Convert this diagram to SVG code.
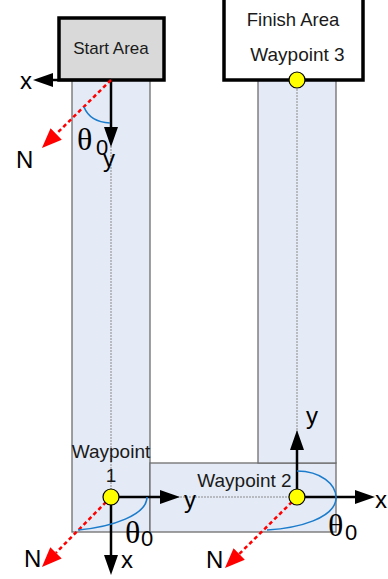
<svg xmlns="http://www.w3.org/2000/svg" width="388" height="579" viewBox="0 0 388 579">
<defs>
<style>
.corr{fill:#e4ebf6;stroke:#6e6e6e;stroke-width:1.3}
.center{fill:none;stroke:#8a8a8a;stroke-width:1;stroke-dasharray:2 1}
.box{stroke:#000;stroke-width:3.5}
.lbl{font-family:"Liberation Sans",Arial,sans-serif;fill:#1a1a1a}
.ax{font-family:"Liberation Sans",Arial,sans-serif;font-size:24px;fill:#000}
.th{font-family:"Liberation Serif","Times New Roman",serif;font-size:32px;fill:#000}
.sub{font-family:"Liberation Sans",Arial,sans-serif;font-size:22px;fill:#000}
.axis{stroke:#000;stroke-width:2.5;fill:none}
.north{stroke:#f00;stroke-width:2.5;stroke-dasharray:4 3;fill:none}
.arc{stroke:#1c7ccc;stroke-width:1.6;fill:none}
.wp{fill:#ffff00;stroke:#000;stroke-width:1.2}
</style>
<marker id="ah" markerUnits="userSpaceOnUse" markerWidth="20" markerHeight="14" refX="0" refY="7" orient="auto">
<path d="M0,0 L20,7 L0,14 Z" fill="#000"/>
</marker>
<marker id="ahr" markerUnits="userSpaceOnUse" markerWidth="20" markerHeight="16" refX="0" refY="8" orient="auto">
<path d="M0,0 L20,8 L0,16 Z" fill="#f00"/>
</marker>
</defs>

<g id="corridors">
<rect class="corr" x="72" y="80" width="78" height="452"/>
<rect class="corr" x="150" y="463" width="186" height="69"/>
<rect class="corr" x="258" y="80" width="78" height="383"/>
<path class="center" d="M111,80 V497 H297 M297,80 V497"/>
</g>

<g id="start-area">
<rect class="box" x="59" y="18" width="105" height="62" fill="#d9d9d9"/>
<text class="lbl" x="111" y="54" font-size="17" text-anchor="middle">Start Area</text>
</g>

<g id="finish-area">
<rect class="box" x="224" y="-2" width="139" height="82" fill="#fff"/>
<text class="lbl" x="293" y="26" font-size="18.5" text-anchor="middle">Finish Area</text>
</g>

<g id="connectors">
<!-- start frame -->
<line class="axis" x1="111" y1="80" x2="53" y2="80" marker-end="url(#ah)"/>
<line class="axis" x1="111" y1="80" x2="111" y2="127" marker-end="url(#ah)"/>
<line class="north" x1="111" y1="80" x2="56.2" y2="134" marker-end="url(#ahr)"/>
<path class="arc" d="M84,107 Q90,122 110,123"/>
<!-- waypoint 1 frame -->
<line class="axis" x1="111" y1="497" x2="160" y2="497" marker-end="url(#ah)"/>
<line class="axis" x1="111" y1="497" x2="111" y2="555" marker-end="url(#ah)"/>
<line class="north" x1="111" y1="497" x2="56" y2="552.8" marker-end="url(#ahr)"/>
<path class="arc" d="M147,497 C147,515 112,527 78,530"/>
<!-- waypoint 2 frame -->
<line class="axis" x1="297" y1="497" x2="355" y2="497" marker-end="url(#ah)"/>
<line class="axis" x1="297" y1="497" x2="297" y2="450" marker-end="url(#ah)"/>
<line class="north" x1="297" y1="497" x2="239.2" y2="554" marker-end="url(#ahr)"/>
<path class="arc" d="M297,471 C320,471 337,484 336,499 C334,518 300,528 267,530"/>
</g>

<g id="waypoint1">
<circle class="wp" cx="111" cy="497" r="8"/>
<text class="lbl" x="111" y="458" font-size="19" text-anchor="middle">Waypoint</text>
<text class="lbl" x="111" y="482" font-size="19" text-anchor="middle">1</text>
</g>

<g id="waypoint2">
<circle class="wp" cx="297" cy="497" r="8"/>
<text class="lbl" x="244.5" y="487" font-size="19" text-anchor="middle">Waypoint 2</text>
</g>

<g id="waypoint3">
<circle class="wp" cx="297" cy="80" r="8"/>
<text class="lbl" x="297.5" y="61" font-size="19" text-anchor="middle">Waypoint 3</text>
</g>

<g id="labels">
<text class="ax" x="20" y="89">x</text>
<text class="ax" x="103" y="167">y</text>
<text class="ax" x="16" y="168">N</text>
<text class="th" x="77" y="150">θ</text>
<text class="sub" x="96" y="155">0</text>

<text class="ax" x="184" y="508">y</text>
<text class="ax" x="121" y="568">x</text>
<text class="ax" x="24" y="567">N</text>
<text class="th" x="125" y="543">θ</text>
<text class="sub" x="141" y="546">0</text>

<text class="ax" x="375" y="508">x</text>
<text class="ax" x="306" y="424">y</text>
<text class="ax" x="206" y="568">N</text>
<text class="th" x="328" y="536">θ</text>
<text class="sub" x="345" y="540">0</text>
</g>
</svg>
